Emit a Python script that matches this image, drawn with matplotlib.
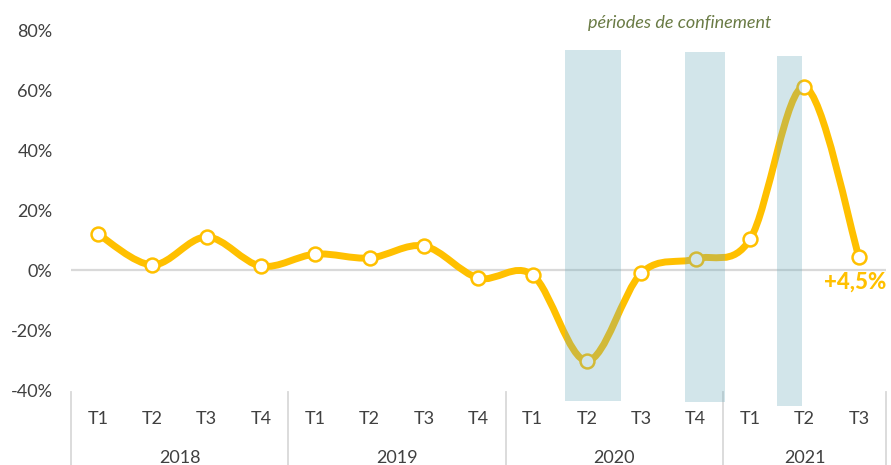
import matplotlib
matplotlib.use("Agg")
import matplotlib.pyplot as plt
from matplotlib.path import Path
from matplotlib.patches import PathPatch, Rectangle
import numpy as np

plt.rcParams['font.family'] = ['Lato', 'DejaVu Sans']

years = ["2018", "2019", "2020", "2021"]
quarters = [["T1", "T2", "T3", "T4"], ["T1", "T2", "T3", "T4"],
            ["T1", "T2", "T3", "T4"], ["T1", "T2", "T3"]]
values = [12.0, 1.7, 11.0, 1.3, 5.3, 4.0, 8.0, -2.7,
          -1.7, -30.3, -1.0, 3.7, 10.3, 61.0, 4.5]
# lockdown bands: (start index, end index, top %, bottom %)
band_start = [8.6, 10.81, 12.5]
band_end = [9.63, 11.54, 12.96]
band_top = [73.3, 72.7, 71.3]
band_bottom = [-43.7, -44.0, -45.3]
yticks = [-40, -20, 0, 20, 40, 60, 80]
annotation = "+4,5%"
band_label = "périodes de confinement"

YELLOW = "#FFC000"
GRAY_TXT = "#404040"
GRID = "#D9D9D9"
FS = 13

fig = plt.figure(figsize=(8.91, 4.65), dpi=100)
ax = fig.add_axes([70.8 / 891, 1 - 390 / 465, (886 - 70.8) / 891, 360 / 465])
ax.set_xlim(-0.5, len(values) - 0.5)
ax.set_ylim(-40, 80)
for s in ax.spines.values():
    s.set_visible(False)
ax.set_xticks([])
ax.set_yticks(yticks)
ax.set_yticklabels([f"{v}%" for v in yticks], color=GRAY_TXT, fontsize=FS)
ax.tick_params(axis='y', length=0, pad=13)

# zero line
ax.axhline(0, color=GRID, lw=1.6, zorder=1)

# smooth curve (Catmull-Rom -> cubic Bezier)
x = np.arange(len(values), dtype=float)
y = np.array(values, dtype=float)
pts = np.column_stack([x, y])
verts = [pts[0]]
codes = [Path.MOVETO]
n = len(pts)
for i in range(n - 1):
    p0 = pts[i - 1] if i > 0 else pts[i]
    p1 = pts[i]
    p2 = pts[i + 1]
    p3 = pts[i + 2] if i + 2 < n else pts[i + 1]
    c1 = p1 + (p2 - p0) / 6.0
    c2 = p2 - (p3 - p1) / 6.0
    verts += [c1, c2, p2]
    codes += [Path.CURVE4] * 3
curve = PathPatch(Path(verts, codes), facecolor='none', edgecolor=YELLOW,
                  lw=5, capstyle='round', joinstyle='round', zorder=2)
ax.add_patch(curve)
ax.plot(x, y, linestyle='none', marker='o', markersize=10,
        markerfacecolor='white', markeredgecolor=YELLOW, markeredgewidth=1.8,
        zorder=3)

# lockdown bands
for s, e, t, b in zip(band_start, band_end, band_top, band_bottom):
    ax.add_patch(Rectangle((s, b), e - s, t - b, facecolor="#6CACBC",
                           alpha=0.3, edgecolor='none', zorder=4, clip_on=False))

ax.text(10.7, 82.5, band_label, ha='center', va='center', style='italic',
        color="#6A7B45", fontsize=13)
ax.text(len(values) - 1 - 0.07, -4.2, annotation, ha='center', va='center',
        fontweight='black', color=YELLOW, fontsize=16)

# category axis
trans = ax.get_xaxis_transform()
idx = 0
bounds = [-0.5]
for yr, qs in zip(years, quarters):
    for q in qs:
        ax.annotate(q, (idx, 0), xycoords=trans, xytext=(0, -29),
                    textcoords='offset pixels', ha='center', va='center',
                    color=GRAY_TXT, fontsize=FS, annotation_clip=False)
        idx += 1
    mid = idx - len(qs) / 2 - 0.5
    ax.annotate(yr, (mid, 0), xycoords=trans, xytext=(0, -68),
                textcoords='offset pixels', ha='center', va='center',
                color=GRAY_TXT, fontsize=FS, annotation_clip=False)
    bounds.append(idx - 0.5)

for bx in bounds:
    ax.plot([bx, bx], [-0.005, -0.21], transform=trans, color=GRID, lw=1.3,
            clip_on=False, zorder=1)

fig.savefig("out.png", dpi=100)
